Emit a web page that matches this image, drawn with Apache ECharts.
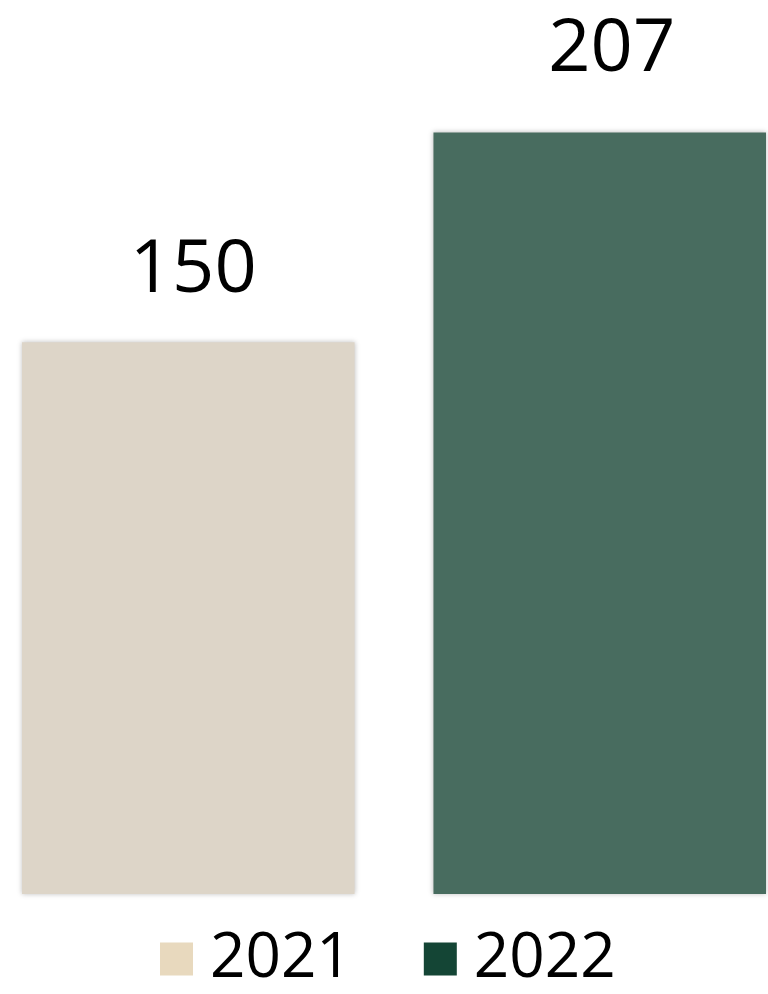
<!DOCTYPE html>
<html><head><meta charset="utf-8">
<script src="https://cdn.jsdelivr.net/npm/echarts@6/dist/echarts.min.js"></script>
<style>html,body{margin:0;padding:0;background:#fff}#c{width:768px;height:994px}</style>
</head><body><div id="c"></div>
<script>
const years = ['2021', '2022'];
const values = [150, 207];
const barColors = ['#DDD5C8', '#486C5F'];
const legendColors = ['#E8D9BE', '#144535'];
const labelDistances = [34, 45];
const labelOffsets = [[5, 0], [12, 0]];

const chart = echarts.init(document.getElementById('c'));
const font = 'Open Sans';
chart.setOption({
  animation: false,
  grid: { left: 22, right: 2, top: 11, bottom: 100 },
  xAxis: { type: 'category', data: [''], show: false },
  yAxis: { type: 'value', min: 0, max: 240, show: false },
  legend: {
    bottom: -1, left: 155, itemWidth: 33, itemHeight: 33, itemGap: 72,
    icon: 'rect',
    textStyle: { fontFamily: font, fontSize: 62, color: '#000', padding: [0,0,0,12] },
    data: years.map((y, i) => ({ name: y, itemStyle: { color: legendColors[i] } }))
  },
  series: years.map((y, i) => ({
    name: y, type: 'bar', data: [values[i]],
    barWidth: 333, barGap: '23.7%', barCategoryGap: 0,
    itemStyle: { color: barColors[i], shadowBlur: 5, shadowColor: 'rgba(0,0,0,0.25)' },
    label: { show: true, position: 'top', distance: labelDistances[i], offset: labelOffsets[i],
      fontFamily: font, fontSize: 74, color: '#000' }
  }))
});
</script></body></html>
